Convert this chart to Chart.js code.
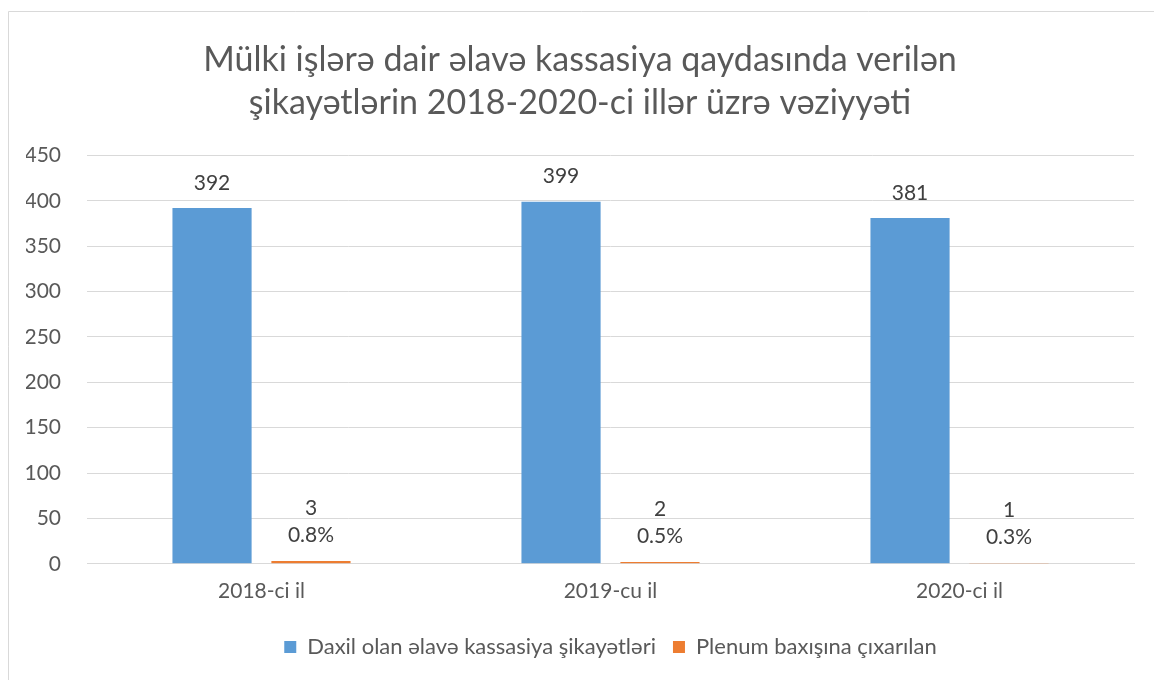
<!DOCTYPE html>
<html>
<head>
<meta charset="utf-8">
<script src="https://cdn.jsdelivr.net/npm/chart.js@4.4.0/dist/chart.umd.min.js"></script>
<style>
  html, body { margin: 0; padding: 0; background: #ffffff; }
  #wrap { width: 1154px; height: 680px; position: relative; }
</style>
</head>
<body>
<div id="wrap"><canvas id="c" width="1154" height="680"></canvas></div>
<script>
const titleLines = ['Mülki işlərə dair əlavə kassasiya qaydasında verilən', 'şikayətlərin 2018-2020-ci illər üzrə vəziyyəti'];
const categories = ['2018-ci il', '2019-cu il', '2020-ci il'];
const seriesNames = ['Daxil olan əlavə kassasiya şikayətləri', 'Plenum baxışına çıxarılan'];
const receivedValues = [392, 399, 381];
const plenumValues = [3, 2, 1];
const plenumPercentLabels = ['0.8%', '0.5%', '0.3%'];
const yTicks = [0, 50, 100, 150, 200, 250, 300, 350, 400, 450];

const FONT = 'Lato, "Open Sans", sans-serif';
const TEXT = '#595959';
const GRID = '#d9d9d9';

const framePlugin = {
  id: 'frame',
  beforeDraw(chart) {
    const ctx = chart.ctx;
    ctx.save();
    ctx.fillStyle = '#ffffff';
    ctx.fillRect(0, 0, chart.width, chart.height);
    ctx.strokeStyle = GRID;
    ctx.lineWidth = 1;
    ctx.beginPath();
    ctx.moveTo(chart.width + 5, 11.5);
    ctx.lineTo(8.5, 11.5);
    ctx.lineTo(8.5, chart.height + 5);
    ctx.stroke();
    ctx.restore();
  }
};

const valueLabelPlugin = {
  id: 'valueLabels',
  afterDatasetsDraw(chart) {
    const ctx = chart.ctx;
    ctx.save();
    ctx.font = '21px ' + FONT;
    ctx.fillStyle = '#404040';
    ctx.textAlign = 'center';
    ctx.textBaseline = 'middle';
    const m0 = chart.getDatasetMeta(0);
    m0.data.forEach((bar, i) => {
      ctx.fillText(String(receivedValues[i]), bar.x, bar.y - 25);
    });
    const m1 = chart.getDatasetMeta(1);
    m1.data.forEach((bar, i) => {
      ctx.fillText(String(plenumValues[i]), bar.x, bar.y - 53);
      ctx.fillText(plenumPercentLabels[i], bar.x, bar.y - 26);
    });
    ctx.restore();
  }
};

new Chart(document.getElementById('c'), {
  type: 'bar',
  data: {
    labels: categories,
    datasets: [
      { label: seriesNames[0], data: receivedValues, backgroundColor: '#5b9bd5', borderWidth: 0 },
      { label: seriesNames[1], data: plenumValues, backgroundColor: '#ed7d31', borderWidth: 0 }
    ]
  },
  options: {
    responsive: false,
    animation: false,
    devicePixelRatio: 1,
    layout: { padding: { left: 26, right: 20, top: 0, bottom: 12 } },
    datasets: { bar: { categoryPercentage: 0.567, barPercentage: 0.8 } },
    plugins: {
      title: {
        display: true,
        text: titleLines,
        color: TEXT,
        font: { family: FONT, size: 34, weight: 'normal', lineHeight: 1.27 },
        padding: { top: 38, bottom: 31 }
      },
      legend: {
        display: true,
        position: 'bottom',
        fullSize: false,
        labels: {
          color: TEXT,
          font: { family: FONT, size: 22 },
          boxWidth: 12,
          boxHeight: 12,
          padding: 17
        }
      },
      tooltip: { enabled: false }
    },
    scales: {
      x: {
        grid: { display: false, drawTicks: false },
        border: { display: true, color: GRID, width: 1 },
        ticks: { color: TEXT, font: { family: FONT, size: 21 }, padding: 15 }
      },
      y: {
        min: 0,
        max: 450,
        afterFit(scale) { scale.width = 61; },
        afterBuildTicks(scale) { scale.ticks = yTicks.map(v => ({ value: v })); },
        grid: { color: GRID, drawTicks: false },
        border: { display: false },
        ticks: { color: TEXT, font: { family: FONT, size: 21 }, padding: 26 }
      }
    }
  },
  plugins: [framePlugin, valueLabelPlugin]
});
</script>
</body>
</html>
